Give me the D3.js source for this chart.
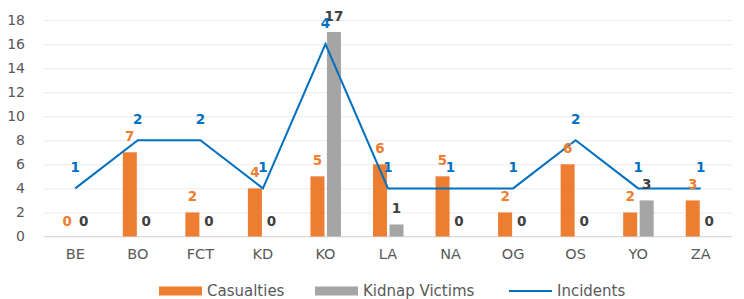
<!DOCTYPE html>
<html>
<head>
<meta charset="utf-8">
<script src="https://cdn.jsdelivr.net/npm/d3@7"></script>
<style>
  body { margin: 0; background: #fff; }
  text { font-family: "DejaVu Sans", Verdana, sans-serif; }
</style>
</head>
<body>
<div id="chart"></div>
<script>
var categories = ["BE", "BO", "FCT", "KD", "KO", "LA", "NA", "OG", "OS", "YO", "ZA"];
var casualties = [0, 7, 2, 4, 5, 6, 5, 2, 6, 2, 3];
var kidnapVictims = [0, 0, 0, 0, 17, 1, 0, 0, 0, 3, 0];
var incidents = [1, 2, 2, 1, 4, 1, 1, 1, 2, 1, 1];
var yTicks = [0, 2, 4, 6, 8, 10, 12, 14, 16, 18];

var svgWidth = 744;
var svgHeight = 299;
var margin = { top: 20, right: 12, bottom: 62, left: 44 };
var width = svgWidth - margin.left - margin.right;
var height = 236.5 - margin.top;

var svg = d3.select("#chart").append("svg")
  .attr("width", svgWidth)
  .attr("height", svgHeight);

var chartGroup = svg.append("g")
  .attr("transform", `translate(${margin.left}, ${margin.top})`);

var xScale = d3.scaleBand().domain(categories).range([0, width]);
var yScale = d3.scaleLinear().domain([0, 18]).range([height, 0]);
// incidents sit on a hidden secondary axis
var y2Scale = d3.scaleLinear().domain([0, 4.5]).range([height, 0]);

// gridlines + tick labels
var leftAxis = d3.axisLeft(yScale).tickValues(yTicks).tickSize(-width).tickPadding(19);
var yAxis = chartGroup.append("g").call(leftAxis);
yAxis.select(".domain").remove();
yAxis.selectAll(".tick line").attr("stroke", "#ebebeb").attr("stroke-width", 1);
yAxis.selectAll(".tick text").attr("fill", "#595959").style("font-size", "14px");

// baseline
chartGroup.append("line")
  .attr("x1", 0).attr("x2", width)
  .attr("y1", height).attr("y2", height)
  .attr("stroke", "#d9d9d9");

// category labels
var bottomAxis = d3.axisBottom(xScale).tickSize(0).tickPadding(12);
var xAxis = chartGroup.append("g")
  .attr("transform", `translate(0, ${height})`)
  .call(bottomAxis);
xAxis.select(".domain").remove();
xAxis.selectAll(".tick text").attr("fill", "#595959").style("font-size", "14.5px");

var barW = 14;
function cx(d, i) { return xScale(categories[i]) + xScale.bandwidth() / 2; }

// casualties bars
chartGroup.selectAll(".cas")
  .data(casualties)
  .enter()
  .append("rect")
  .attr("x", (d, i) => cx(d, i) - barW - 1)
  .attr("y", d => yScale(d))
  .attr("width", barW)
  .attr("height", d => height - yScale(d))
  .attr("fill", "#ED7D31");

// kidnap bars
chartGroup.selectAll(".kid")
  .data(kidnapVictims)
  .enter()
  .append("rect")
  .attr("x", (d, i) => cx(d, i) + 1.5)
  .attr("y", d => yScale(d))
  .attr("width", barW)
  .attr("height", d => height - yScale(d))
  .attr("fill", "#A5A5A5");

// incidents line
var line = d3.line()
  .x((d, i) => cx(d, i))
  .y(d => y2Scale(d));

chartGroup.append("path")
  .datum(incidents)
  .attr("d", line)
  .attr("fill", "none")
  .attr("stroke", "#0070C0")
  .attr("stroke-width", 2);

// data labels
chartGroup.selectAll(".casLabel")
  .data(casualties)
  .enter()
  .append("text")
  .attr("x", (d, i) => cx(d, i) - barW / 2 - 1)
  .attr("y", d => yScale(d) - 11)
  .attr("text-anchor", "middle")
  .attr("fill", "#ED7D31")
  .style("font-size", "13.5px")
  .style("font-weight", "bold")
  .text(d => d);

chartGroup.selectAll(".kidLabel")
  .data(kidnapVictims)
  .enter()
  .append("text")
  .attr("x", (d, i) => cx(d, i) + barW / 2 + 1.5)
  .attr("y", d => yScale(d) - 11)
  .attr("text-anchor", "middle")
  .attr("fill", "#404040")
  .style("font-size", "13.5px")
  .style("font-weight", "bold")
  .text(d => d);

chartGroup.selectAll(".incLabel")
  .data(incidents)
  .enter()
  .append("text")
  .attr("x", (d, i) => cx(d, i))
  .attr("y", d => y2Scale(d) - 16)
  .attr("text-anchor", "middle")
  .attr("fill", "#0070C0")
  .style("font-size", "13.5px")
  .style("font-weight", "bold")
  .text(d => d);

// legend
var legend = svg.append("g").attr("transform", "translate(0, 291)");
var items = [
  { name: "Casualties", x: 159, type: "rect", color: "#ED7D31" },
  { name: "Kidnap Victims", x: 315, type: "rect", color: "#A5A5A5" },
  { name: "Incidents", x: 509, type: "line", color: "#0070C0" }
];
items.forEach(it => {
  if (it.type === "rect") {
    legend.append("rect")
      .attr("x", it.x).attr("y", -4.5)
      .attr("width", 43).attr("height", 9)
      .attr("fill", it.color);
  } else {
    legend.append("line")
      .attr("x1", it.x).attr("x2", it.x + 43)
      .attr("y1", 0).attr("y2", 0)
      .attr("stroke", it.color).attr("stroke-width", 2);
  }
  legend.append("text")
    .attr("x", it.x + 48)
    .attr("y", 0)
    .attr("dy", "0.35em")
    .attr("fill", "#595959")
    .style("font-size", "15px")
    .text(it.name);
});
</script>
</body>
</html>
